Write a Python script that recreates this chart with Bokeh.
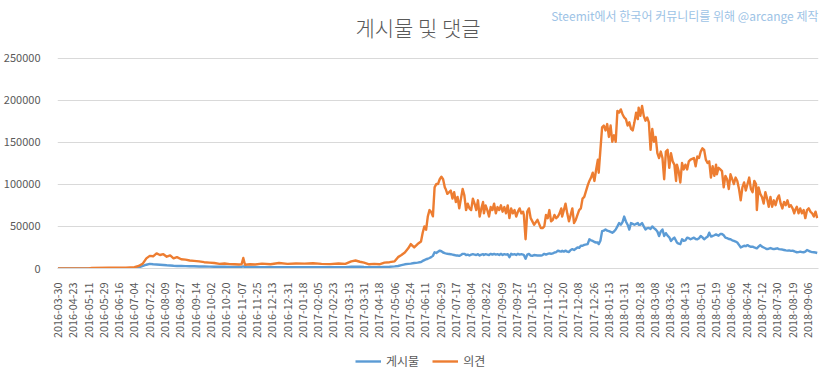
import math
from bokeh.plotting import figure
from bokeh.layouts import column
from bokeh.models import (Range1d, FixedTicker, NumeralTickFormatter, Legend, LegendItem,
                          Label, ColumnDataSource)
from bokeh.embed import file_html
from bokeh.resources import INLINE

TITLE = "게시물 및 댓글"
CREDIT = "Steemit에서 한국어 커뮤니티를 위해 @arcange 제작"
SERIES = ["게시물", "의견"]

# category labels shown on the axis (every 18th day of the category axis)
tick_labels = [
    "2016-03-30", "2016-04-23", "2016-05-11", "2016-05-29", "2016-06-16", "2016-07-04",
    "2016-07-22", "2016-08-09", "2016-08-27", "2016-09-14", "2016-10-02", "2016-10-20",
    "2016-11-07", "2016-11-25", "2016-12-13", "2016-12-31", "2017-01-18", "2017-02-05",
    "2017-02-23", "2017-03-13", "2017-03-31", "2017-04-18", "2017-05-06", "2017-05-24",
    "2017-06-11", "2017-06-29", "2017-07-17", "2017-08-04", "2017-08-22", "2017-09-09",
    "2017-09-27", "2017-10-15", "2017-11-02", "2017-11-20", "2017-12-08", "2017-12-26",
    "2018-01-13", "2018-01-31", "2018-02-18", "2018-03-08", "2018-03-26", "2018-04-13",
    "2018-05-01", "2018-05-19", "2018-06-06", "2018-06-24", "2018-07-12", "2018-07-30",
    "2018-08-19", "2018-09-06",
]
LABEL_EVERY = 18
N_DAYS = 895

# day index (category number) of each sampled value
day = [
    0, 20, 36, 40, 60, 80, 90, 95, 100, 104,
    108, 112, 116, 120, 124, 128, 132, 136, 140, 145,
    150, 155, 160, 166, 172, 178, 184, 190, 196, 202,
    208, 213, 216, 218, 220, 226, 232, 240, 250, 260,
    270, 280, 290, 300, 310, 320, 330, 338, 345, 350,
    355, 360, 366, 372, 378, 384, 390, 396, 400, 404,
    408, 412,
    415, 419, 423, 427, 429, 431, 433, 435, 437, 439,
    441, 443, 445, 447, 449, 451, 453, 455, 456, 458,
    462, 464, 466, 468, 470, 472, 474, 476, 478, 480,
    482, 484, 486, 488, 490, 492, 494, 496, 498, 500,
    501, 503, 505, 507, 509, 511, 513, 515, 517, 519,
    521, 523, 525, 527, 529, 531, 533, 535, 537, 539,
    541, 543, 545, 547, 548, 550, 552, 554, 556, 558,
    560, 564, 568, 570, 572, 574, 576, 578, 580, 582,
    584, 586, 588, 590, 592, 593, 595, 597, 599, 601,
    603, 605, 607, 609, 611, 613, 615, 617, 619, 623,
    625, 627, 629, 631, 633, 635, 636, 638, 640, 642,
    644, 646, 648, 650, 652, 654, 656, 658, 660, 662,
    664, 666, 668, 670, 672, 674, 676, 678, 680, 682,
    683, 685, 687, 689, 691, 693, 695, 697, 699, 701,
    703, 705, 707, 709, 711, 713, 715, 717, 719, 721,
    723, 725, 727, 728, 730, 732, 734, 736, 738, 740,
    742, 744, 748, 750, 752, 754, 756, 758, 760, 762,
    764, 766, 768, 770, 772, 774, 775, 777, 779, 781,
    783, 785, 787, 789, 791, 793, 795, 797, 799, 801,
    803, 805, 807, 809, 811, 813, 815, 817, 819, 821,
    822, 824, 826, 828, 830, 832, 834, 836, 838, 840,
    842, 844, 846, 848, 850, 852, 854, 856, 858, 860,
    862, 864, 866, 867, 869, 871, 873, 875, 877, 879,
    881, 883, 885, 887, 889, 891, 893,
]

# 의견 (comments)
comments = [
    0, 0, 0, 800, 900, 1000, 1500, 3000, 6000, 12000,
    15000, 14500, 18000, 16000, 17000, 14000, 15500, 12000, 13500, 11000,
    10500, 9500, 9000, 8500, 7500, 7000, 6500, 5500, 6000, 5200,
    5000, 4800, 5000, 12500, 4500, 5000, 4800, 5800, 5000, 6500,
    5500, 6000, 5800, 6200, 5500, 5200, 6000, 5500, 8500, 9500,
    8000, 7000, 5000, 5500, 5000, 7000, 7500, 8500, 13500, 16000,
    19000, 24000,
    29000, 25000, 29000, 32000, 42500, 50000, 46000, 61700, 69400, 67000,
    62000, 96400, 100300, 100300, 106000, 109000, 106000, 96400, 94500, 88700,
    92600, 83000, 90700, 79000, 85000, 71400, 83000, 94500, 86800, 69400,
    77000, 71400, 69400, 83000, 77000, 69400, 81000, 61700, 71400, 79000,
    65500, 75000, 69400, 61700, 73000, 69400, 77000, 65500, 73000, 69400,
    75000, 67500, 73000, 65500, 75000, 59800, 71400, 65500, 69400, 61700,
    67500, 71400, 65500, 67500, 63600, 34700, 67500, 71400, 59800, 56000,
    52000, 57800, 48000, 48000, 50000, 63600, 59800, 69400, 56000, 57800,
    63600, 59800, 61700, 65500, 71400, 61700, 69400, 77000, 65500, 56000,
    63600, 71400, 54000, 57800, 63600, 69400, 71400, 83000, 85000, 98400,
    104000, 108000, 113800, 104000, 117700, 129300, 113800, 140900, 167800, 169800,
    164000, 171600, 156300, 169800, 150500, 158200, 150500, 187200, 185200, 189000,
    183300, 179400, 177500, 169800, 173600, 165900, 164000, 173600, 185200, 177500,
    191000, 181300, 193000, 181300, 175600, 179400, 173600, 140900, 165900, 150500,
    156300, 137000, 131200, 138900, 131200, 106100, 138900, 140900, 119600, 137000,
    127300, 123400, 104000, 123400, 115700, 102200, 125300, 117700, 123400, 117700,
    127300, 129300, 131200, 121500, 133000, 131200, 138900, 142700, 140900, 129300,
    125400, 127300, 108000, 121500, 110000, 123400, 111900, 119600, 117700, 115700,
    96400, 110000, 106100, 94500, 111900, 106100, 100300, 108000, 104000, 94500,
    81000, 96400, 102300, 92600, 100300, 108000, 94500, 90700, 104000, 100300,
    69400, 96400, 88700, 84900, 77200, 90700, 83000, 73300, 84900, 73300,
    81000, 75200, 83000, 86800, 77200, 71400, 79100, 75200, 81000, 73300,
    75200, 71400, 65600, 69400, 73300, 65600, 71400, 65600, 69400, 59800,
    69400, 71400, 67500, 65600, 61700, 67500, 59800,
]

# 게시물 (posts)
posts = [
    0, 0, 100, 200, 250, 300, 400, 1200, 3000, 4500,
    5500, 5000, 4800, 4500, 4200, 3800, 3500, 3200, 3000, 2900,
    2800, 2700, 2600, 2400, 2300, 2200, 2100, 2000, 2000, 1900,
    1800, 1800, 1800, 2500, 1700, 1700, 1600, 1500, 1500, 1600,
    1500, 1500, 1500, 1600, 1500, 1500, 1600, 1500, 2000, 2200,
    2000, 1700, 1500, 1500, 1500, 1800, 2000, 2500, 3000, 4000,
    5000, 5500,
    5800, 6500, 7000, 7700, 9000, 10000, 11000, 11600, 12500, 13500,
    15000, 19300, 18500, 20000, 21200, 20500, 19000, 18300, 18000, 17500,
    17000, 16500, 16000, 15500, 15400, 15000, 16000, 17400, 17400, 16000,
    16500, 15500, 16500, 17000, 16500, 16000, 17000, 15500, 16500, 17000,
    16000, 17000, 16500, 16000, 17400, 16500, 17400, 16500, 17000, 16000,
    17400, 16000, 17000, 16500, 17000, 13500, 17400, 16500, 17000, 16000,
    17400, 16500, 17000, 16500, 16000, 11600, 16500, 17400, 15400, 15000,
    16000, 15400, 15400, 16000, 17400, 16500, 17400, 18000, 17500, 18000,
    19000, 19500, 21200, 20500, 20000, 21000, 20000, 21200, 20000, 19500,
    22000, 23000, 22000, 23500, 25000, 24500, 27000, 27000, 28000, 28900,
    34700, 33500, 32800, 31500, 30900, 31000, 29000, 33000, 44400, 45000,
    46300, 45000, 44400, 43500, 42500, 44000, 46300, 50000, 54000, 52000,
    55000, 61700, 55900, 52000, 46300, 54000, 53000, 52000, 53000, 54000,
    52000, 52000, 54000, 50000, 46300, 48000, 48200, 47000, 50000, 48000,
    46300, 44000, 38600, 44000, 46300, 38600, 42000, 39000, 37000, 32800,
    35000, 36700, 33000, 30900, 29500, 28900, 34700, 33000, 33500, 36700,
    36000, 34700, 36700, 35000, 34700, 36000, 38600, 37000, 34700, 36500,
    37800, 42500, 38000, 38600, 39500, 40500, 40000, 39000, 41000, 41000,
    39500, 36700, 36000, 35000, 34700, 33500, 32800, 32000, 30900, 28000,
    25000, 26000, 27000, 26500, 27800, 26500, 25800, 26000, 25000, 24300,
    24000, 26000, 27800, 26000, 25000, 24000, 23100, 23500, 24300, 23500,
    23000, 23500, 24000, 23000, 22700, 22500, 22000, 21500, 21200, 21500,
    21000, 21200, 20500, 20000, 19300, 19500, 20000, 19500, 19300, 20000,
    22000, 21000, 20000, 19500, 19300, 19000, 18400,
]

y_ticks = [0, 50000, 100000, 150000, 200000, 250000]
Y_MAX = 250000

assert len(day) == len(comments) == len(posts)

BLUE = "#5B9BD5"
ORANGE = "#ED7D31"
GRID = "#D9D9D9"
TEXT = "#595959"
FONT = "Noto Sans CJK KR"
TITLE_FONT = "Noto Sans CJK KR Light"

# layout (canvas pixels)
W, H = 832, 379
LEG_H = 39                      # strip at the bottom holding the legend
H1 = H - LEG_H
PLOT_L, PLOT_R = 56, 818        # plot area left / right
PLOT_TOP, PLOT_BOT = 59, 275    # y of the 250000 line / of the 0 line
ML, MR, MT, MB = PLOT_L, W - PLOT_R, 2, H1 - PLOT_BOT
LEG_X, LEG_Y = 354, 10          # legend box: left edge (canvas px), bottom offset in strip

# the frame reaches up to the top of the canvas so that the title can live in it
frame_h = H1 - MT - MB
y_end = Y_MAX * frame_h / (PLOT_BOT - PLOT_TOP)
px_per_day = (PLOT_R - PLOT_L) / N_DAYS


def xd(px):
    return (px - PLOT_L) / px_per_day - 0.5


def yd(py):
    return (PLOT_BOT - py) / (PLOT_BOT - PLOT_TOP) * Y_MAX


p = figure(width=W, height=H1, output_backend="svg", toolbar_location=None,
           x_range=Range1d(-0.5, N_DAYS - 0.5), y_range=Range1d(0, y_end),
           min_border_left=ML, min_border_right=MR, min_border_top=MT,
           min_border_bottom=MB)
p.title.visible = False
p.outline_line_color = None
p.background_fill_color = "white"
p.border_fill_color = "white"

src = ColumnDataSource(dict(day=day, posts=posts, comments=comments))
line_kw = dict(line_width=2.4, line_join="round")
p.line("day", "posts", source=src, line_color=BLUE, **line_kw)
p.line("day", "comments", source=src, line_color=ORANGE, **line_kw)

tick_pos = [i * LABEL_EVERY for i in range(len(tick_labels))]
p.xaxis.ticker = FixedTicker(ticks=tick_pos)
p.xaxis.major_label_overrides = {t: s for t, s in zip(tick_pos, tick_labels)}
p.xaxis.major_label_orientation = math.pi / 2
p.xaxis.major_tick_line_color = None
p.xaxis.minor_tick_line_color = None
p.xaxis.axis_line_color = GRID
p.xaxis.major_label_standoff = 8
p.xaxis.major_label_text_font = FONT
p.xaxis.major_label_text_font_size = "10.8px"
p.xaxis.major_label_text_color = TEXT

p.yaxis.ticker = FixedTicker(ticks=y_ticks)
p.yaxis.formatter = NumeralTickFormatter(format="0")
p.yaxis.axis_line_color = None
p.yaxis.major_tick_line_color = None
p.yaxis.minor_tick_line_color = None
p.yaxis.major_label_standoff = 11
p.yaxis.major_label_text_font = FONT
p.yaxis.major_label_text_font_size = "11px"
p.yaxis.major_label_text_color = TEXT

p.xgrid.grid_line_color = None
p.ygrid.grid_line_color = GRID
p.ygrid.grid_line_width = 1

p.add_layout(Label(x=xd(417), y=yd(27), text=TITLE, text_align="center",
                   text_baseline="middle", text_font=TITLE_FONT, text_font_size="21px",
                   text_color=TEXT))
p.add_layout(Label(x=xd(818), y=yd(15), text=CREDIT, text_align="right",
                   text_baseline="middle", text_font=FONT, text_font_size="12px",
                   text_color="#9DC3E6"))

# legend strip: same series drawn on an x range that keeps them out of sight,
# so that only their legend entries show
pl = figure(width=W, height=LEG_H, output_backend="svg", toolbar_location=None,
            x_range=Range1d(-3, -2), y_range=Range1d(0, 1),
            x_axis_type=None, y_axis_type=None,
            min_border_left=ML, min_border_right=MR, min_border_top=0, min_border_bottom=0)
pl.title.visible = False
pl.outline_line_color = None
pl.xgrid.visible = False
pl.ygrid.visible = False
lg_posts = pl.line("day", "posts", source=src, line_color=BLUE, **line_kw)
lg_comments = pl.line("day", "comments", source=src, line_color=ORANGE, **line_kw)

legend = Legend(items=[LegendItem(label=SERIES[0], renderers=[lg_posts]),
                       LegendItem(label=SERIES[1], renderers=[lg_comments])],
                orientation="horizontal", location=(LEG_X - ML, LEG_Y),
                border_line_color=None, background_fill_alpha=0,
                glyph_width=26, glyph_height=14, label_standoff=5, spacing=13,
                padding=0, margin=0, label_text_font=FONT,
                label_text_font_size="12px", label_text_color=TEXT,
                label_height=14)
pl.add_layout(legend)

open("out.html", "w").write(file_html(column(p, pl, spacing=0), INLINE))
